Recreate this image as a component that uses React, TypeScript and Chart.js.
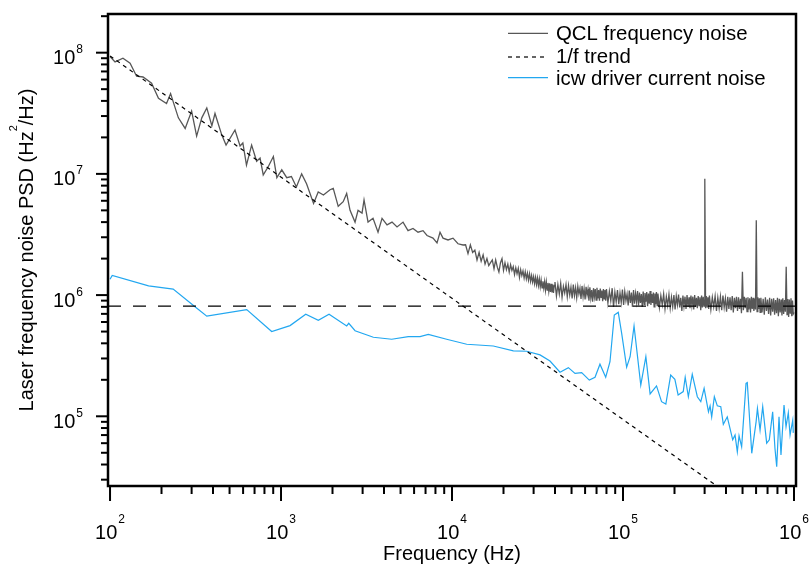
import React, { useEffect, useRef } from 'react';
import { Chart, registerables } from 'chart.js';

Chart.register(...registerables);

const FONT = '"Liberation Sans", Arial, Helvetica, sans-serif';

// ---- Axis ranges ----
const X_MIN = 97.3;
const X_MAX = 1.027e6;
const Y_MIN = 2.66e4;
const Y_MAX = 2.085e8;
const xMajorExponents = [2, 3, 4, 5, 6];
const yMajorExponents = [5, 6, 7, 8];

// ---- QCL frequency noise (Hz, Hz^2/Hz), low-frequency part ----
const qclFreq = [
  100, 107, 119, 131, 143, 156, 175, 192, 214, 226,
  251, 275, 300, 321, 344, 368, 394, 411, 450, 477,
  538, 576, 598, 628, 673, 720, 754, 787, 843, 902,
  945, 1010, 1080, 1150, 1230, 1320, 1410, 1550, 1650, 1770,
  1935, 2020, 2160, 2310, 2420,
  2533, 2709, 2821, 2977, 3058, 3227, 3452, 3692, 3897, 4168,
  4458, 4769, 5170, 5529, 5914, 6326, 6767, 7141, 7741, 8170,
  8507, 8858, 9474, 10134, 10840, 11595,
];
const qclValues = [
  9.3e7, 8.4e7, 9.0e7, 8.2e7, 6.4e7, 6.3e7, 5.6e7, 4.2e7, 3.8e7, 4.6e7,
  2.9e7, 2.37e7, 3.3e7, 2.05e7, 2.9e7, 3.5e7, 2.5e7, 3.15e7, 2.1e7, 1.73e7,
  2.3e7, 1.7e7, 1.8e7, 1.18e7, 1.73e7, 1.27e7, 1.35e7, 9.8e6, 1.15e7, 1.39e7,
  9.3e6, 1.08e7, 9.3e6, 9.5e6, 7.8e6, 1.0e7, 8.3e6, 5.7e6, 7.1e6, 6.7e6,
  7.4e6, 7.6e6, 5.4e6, 5.9e6, 6.9e6,
  5.0e6, 4.0e6, 5.0e6, 4.75e6, 6.1e6, 4.0e6, 4.3e6, 3.3e6, 4.3e6, 3.8e6,
  4.0e6, 3.65e6, 4.0e6, 3.4e6, 3.55e6, 3.3e6, 3.4e6, 3.1e6, 2.95e6, 2.7e6,
  3.3e6, 2.95e6, 2.85e6, 2.95e6, 2.65e6, 2.59e6,
];

// ---- QCL frequency noise, dense high-frequency part (kHz, units of 1e6 Hz^2/Hz) ----
const qclDenseFreqKHz = [
  12.0, 12.4, 12.8, 13.2, 13.6, 14.0, 14.4, 14.8, 15.2, 15.6, 16.0, 16.4, 16.8, 17.2, 17.6, 18.0, 18.4, 18.8, 19.2, 19.6,
  20.0, 20.4, 20.8, 21.2, 21.6, 22.0, 22.4, 22.8, 23.2, 23.6, 24.0, 24.4, 24.8, 25.2, 25.6, 26.0, 26.4, 26.8, 27.2, 27.6,
  28.0, 28.4, 28.8, 29.2, 29.6, 30.0, 30.4, 30.8, 31.2, 31.6, 32.0, 32.4, 32.8, 33.2, 33.6, 34.0, 34.4, 34.8, 35.2, 35.6,
  36.0, 36.4, 36.8, 37.2, 37.6, 38.0, 38.4, 38.8, 39.2, 39.6,
  40.0, 40.8, 41.6, 42.4, 43.2, 44.0, 44.8, 45.6, 46.4, 47.2, 48.0, 48.8, 49.6, 50.4, 51.2, 52.0, 52.8, 53.6, 54.4, 55.2,
  56.0, 56.8, 57.6, 58.4, 59.2, 60.0, 60.8, 61.6, 62.4, 63.2, 64.0, 64.8, 65.6, 66.4, 67.2, 68.0, 68.8, 69.6, 70.4, 71.2,
  72.0, 72.8, 73.6, 74.4, 75.2, 76.0, 76.8, 77.6, 78.4, 79.2,
  80.0, 81.6, 83.2, 84.8, 86.4, 88.0, 89.6, 91.2, 92.8, 94.4, 96.0, 97.6, 99.2, 100.8, 102.4, 104.0, 105.6, 107.2, 108.8, 110.4,
  112.0, 113.6, 115.2, 116.8, 118.4, 120.0, 121.6, 123.2, 124.8, 126.4, 128.0, 129.6, 131.2, 132.8, 134.4, 136.0, 137.6, 139.2, 140.8, 142.4,
  144.0, 145.6, 147.2, 148.8, 150.4, 152.0, 153.6, 155.2, 156.8, 158.4,
  160.0, 163.2, 166.4, 169.6, 172.8, 176.0, 179.2, 182.4, 185.6, 188.8, 192.0, 195.2, 198.4, 201.6, 204.8, 208.0, 211.2, 214.4, 217.6, 220.8,
  224.0, 227.2, 230.4, 233.6, 236.8, 240.0, 243.2, 246.4, 249.6, 252.8, 256.0, 259.2, 262.4, 265.6, 268.8, 272.0, 275.2, 278.4, 281.6, 284.8,
  288.0, 291.2, 294.4, 297.6, 300.8, 304.0, 307.2, 310.4, 313.6, 316.8,
  320.0, 326.4, 332.8, 339.2, 345.6, 352.0, 358.4, 364.8, 371.2, 377.6, 384.0, 390.4, 396.8, 403.2, 409.6, 416.0, 422.4, 428.8, 435.2, 441.6,
  448.0, 454.4, 460.8, 467.2, 473.6, 480.0, 486.4, 492.8, 499.2, 505.6, 512.0, 518.4, 524.8, 531.2, 537.6, 544.0, 550.4, 556.8, 563.2, 569.6,
  576.0, 582.4, 588.8, 595.2, 601.6, 608.0, 614.4, 620.8, 627.2, 633.6,
  640, 650, 660, 670, 680, 690, 700, 710, 720, 730, 740, 750, 760, 770, 780, 790, 800, 810, 820, 830,
  840, 850, 860, 870, 880, 890, 900, 910, 920, 930, 940, 950, 960, 970, 980, 990, 1000,
];
const qclDenseValuesE6 = [
  2.6, 2.2, 2.6, 2.25, 2.35, 1.95, 2.25, 1.9, 2.15, 1.8, 2.0, 1.75, 1.85, 1.95, 1.65, 1.95, 1.7, 1.55, 1.85, 2.0,
  1.6, 1.85, 1.62, 1.8, 1.55, 1.78, 1.6, 1.72, 1.48, 1.68, 1.5, 1.66, 1.4, 1.62, 1.45, 1.58, 1.38, 1.56, 1.36, 1.52,
  1.33, 1.5, 1.3, 1.45, 1.28, 1.42, 1.24, 1.4, 1.22, 1.38, 1.2, 1.36, 1.17, 1.33, 1.15, 1.3, 1.14, 1.29, 1.1, 1.28,
  1.1, 1.26, 1.08, 1.25, 1.06, 1.24, 1.05, 1.22, 1.04, 1.2,
  1.28, 0.98, 1.22, 1.02, 1.25, 0.96, 1.18, 1.04, 1.22, 0.97, 1.2, 1.0, 1.16, 0.94, 1.22, 0.99, 1.15, 0.95, 1.18, 1.02,
  1.14, 0.93, 1.19, 0.97, 1.13, 0.92, 1.17, 1.0, 1.12, 0.9, 1.16, 0.95, 1.1, 0.88, 1.14, 0.97, 1.12, 0.91, 1.15, 0.94,
  1.1, 0.9, 1.13, 0.96, 1.09, 0.89, 1.12, 0.93, 1.1, 0.9,
  1.12, 0.86, 1.08, 0.9, 1.14, 0.8, 1.06, 0.88, 1.1, 0.84, 1.04, 0.87, 1.11, 0.83, 1.07, 0.9, 1.02, 0.82, 1.09, 0.86,
  1.05, 0.8, 1.1, 0.85, 1.03, 0.88, 1.08, 0.82, 1.05, 0.86, 1.02, 0.8, 1.07, 0.84, 1.04, 0.88, 1.06, 0.81, 1.03, 0.85,
  1.08, 0.83, 1.02, 0.86, 1.05, 0.8, 1.03, 0.84, 1.06, 0.82,
  1.03, 0.79, 0.99, 0.83, 1.02, 0.77, 0.97, 0.82, 1.01, 0.78, 0.96, 0.8, 1.0, 0.76, 0.98, 0.83, 1.01, 0.79, 0.95, 0.74,
  0.99, 0.81, 0.97, 0.77, 1.0, 0.8, 0.96, 0.78, 0.99, 0.82, 0.97, 0.76, 1.0, 0.8, 0.95, 0.78, 0.98, 0.82, 0.96, 0.75,
  0.99, 0.79, 0.97, 0.81, 9.1, 0.78, 0.98, 0.8, 0.96, 0.77,
  0.99, 0.76, 0.96, 0.8, 0.98, 0.74, 0.95, 0.78, 0.97, 0.75, 0.99, 0.79, 0.94, 0.73, 0.97, 0.77, 0.96, 0.75, 0.98, 0.72,
  0.95, 0.78, 0.97, 0.74, 0.96, 0.77, 0.93, 0.71, 1.56, 0.75, 0.97, 0.78, 0.95, 0.73, 0.96, 0.76, 0.94, 0.72, 0.97, 0.77,
  0.95, 0.74, 0.93, 0.76, 4.15, 0.73, 0.96, 0.77, 0.94, 0.72,
  0.95, 0.72, 0.93, 0.69, 0.96, 0.74, 0.92, 0.7, 0.95, 0.68, 0.93, 0.73, 0.94, 0.69, 0.91, 0.71, 0.95, 0.67, 0.93, 0.72,
  0.92, 0.68, 0.94, 0.7, 0.91, 0.73, 1.71, 0.69, 0.93, 0.66, 0.92, 0.71, 0.94, 0.67, 0.9, 0.7, 0.72,
];

// ---- 1/f trend (end points) ----
const trendFreq = [100, 1e6];
const trendValues = [9.4e7, 9.4e3];

// ---- white-noise floor (dashed) ----
const floorLevel = 8.1e5;

// ---- icw driver current noise ----
const icwFreq = [
  100, 103, 168, 234, 314, 368, 630, 882, 1129, 1395,
  1652, 1909, 2421, 2489, 2710, 3467, 4438, 5550, 6500, 7265,
  9300, 12190, 17440, 22830, 27350, 32700, 37400, 42800, 47900, 52400,
  57300, 63500, 68600, 73300, 79200, 83900, 88900, 93800, 98200, 105000,
  110000, 116000, 127000, 136000, 144000, 157000, 168000, 178000, 190000, 201000,
  210000, 225000, 231000, 241000, 254000, 272000, 285000, 298000, 316000, 323000,
  330000, 342000, 356000, 373000, 386000, 407000, 438000, 452000, 466000, 477000,
  494000, 524000, 533000, 566000, 600000, 611000, 633000, 656000, 692000, 717000,
  750000, 774000, 792000, 817000, 839000, 874000, 898000, 926000, 948000, 983000,
  990000,
];
const icwValues = [
  1.35e6, 1.45e6, 1.19e6, 1.12e6, 8.0e5, 6.7e5, 7.6e5, 5.0e5, 5.6e5, 6.95e5,
  6.2e5, 6.95e5, 5.56e5, 5.85e5, 5.08e5, 4.49e5, 4.32e5, 4.54e5, 4.54e5, 4.74e5,
  4.32e5, 3.93e5, 3.8e5, 3.46e5, 3.44e5, 3.21e5, 2.86e5, 2.31e5, 2.52e5, 2.26e5,
  2.29e5, 1.99e5, 2.1e5, 2.69e5, 2.1e5, 2.82e5, 6.85e5, 7.2e5, 4.84e5, 2.54e5,
  3.1e5, 5.56e5, 1.81e5, 3.1e5, 1.53e5, 1.78e5, 1.32e5, 1.26e5, 2.19e5, 2.02e5,
  1.5e5, 1.6e5, 2.1e5, 1.45e5, 2.22e5, 1.45e5, 1.32e5, 1.7e5, 1.09e5, 1.22e5,
  9.9e4, 1.45e5, 1.22e5, 1.2e5, 8.6e4, 9.9e4, 6.4e4, 7.0e4, 5.1e4, 6.9e4,
  5.6e4, 1.87e5, 1.9e5, 4.95e4, 9.0e4, 1.16e5, 7.7e4, 1.2e5, 6.0e4, 6.4e4,
  1.09e5, 5.4e4, 3.84e4, 9.9e4, 4.8e4, 1.24e5, 8.2e4, 1.07e5, 7.0e4, 9.3e4,
  7.3e4,
];

const GRAY = '#575757';
const BLUE = '#22a7f0';

const overlayPlugin = {
  id: 'overlay',
  afterDraw(chart: any) {
    const { ctx, chartArea: a, scales } = chart;
    const xs = scales.x;
    const ys = scales.y;
    ctx.save();
    ctx.fillStyle = '#000';
    ctx.strokeStyle = '#000';

    // ticks
    ctx.lineWidth = 2;
    for (let d = 1; d <= 6; d++) {
      for (let m = 1; m <= 9; m++) {
        const f = m * Math.pow(10, d);
        if (f < xs.min || f > xs.max) continue;
        const px = xs.getPixelForValue(f);
        const len = m === 1 ? 15 : 8;
        ctx.beginPath();
        ctx.moveTo(px, a.bottom);
        ctx.lineTo(px, a.bottom + len);
        ctx.stroke();
      }
    }
    for (let d = 4; d <= 8; d++) {
      for (let m = 1; m <= 9; m++) {
        const v = m * Math.pow(10, d);
        if (v < ys.min || v > ys.max) continue;
        const py = ys.getPixelForValue(v);
        const len = m === 1 ? 12 : 7;
        ctx.beginPath();
        ctx.moveTo(a.left, py);
        ctx.lineTo(a.left - len, py);
        ctx.stroke();
      }
    }

    // frame
    ctx.lineWidth = 2.5;
    ctx.strokeRect(a.left, a.top, a.right - a.left, a.bottom - a.top);

    // x tick labels
    ctx.textAlign = 'left';
    ctx.textBaseline = 'alphabetic';
    for (const e of xMajorExponents) {
      const px = xs.getPixelForValue(Math.pow(10, e));
      ctx.font = `20px ${FONT}`;
      const w1 = ctx.measureText('10').width;
      ctx.font = `12px ${FONT}`;
      const w2 = ctx.measureText(String(e)).width;
      const start = px - (w1 + 1 + w2) / 2;
      ctx.font = `20px ${FONT}`;
      ctx.fillText('10', start, a.bottom + 53);
      ctx.font = `12px ${FONT}`;
      ctx.fillText(String(e), start + w1 + 1, a.bottom + 37);
    }
    // y tick labels
    for (const e of yMajorExponents) {
      const py = ys.getPixelForValue(Math.pow(10, e));
      ctx.font = `20px ${FONT}`;
      const w1 = ctx.measureText('10').width;
      ctx.font = `12px ${FONT}`;
      const w2 = ctx.measureText(String(e)).width;
      const right = a.left - 25;
      ctx.font = `12px ${FONT}`;
      ctx.fillText(String(e), right - w2, py + 0.6);
      ctx.font = `20px ${FONT}`;
      ctx.fillText('10', right - w2 - 1 - w1, py + 11.6);
    }

    // x axis title
    ctx.font = `20px ${FONT}`;
    ctx.textAlign = 'center';
    ctx.fillText('Frequency (Hz)', (a.left + a.right) / 2, 560);

    // y axis title
    ctx.save();
    ctx.translate(33, (a.top + a.bottom) / 2);
    ctx.rotate(-Math.PI / 2);
    ctx.textAlign = 'left';
    const p1 = 'Laser frequency noise PSD (Hz';
    const p2 = '2';
    const p3 = '/Hz)';
    ctx.font = `20px ${FONT}`;
    const t1 = ctx.measureText(p1).width;
    const t3 = ctx.measureText(p3).width;
    ctx.font = `11px ${FONT}`;
    const t2 = ctx.measureText(p2).width;
    const total = t1 + t2 + t3;
    let cx = -total / 2;
    ctx.font = `20px ${FONT}`;
    ctx.fillText(p1, cx, 0);
    cx += t1;
    ctx.font = `11px ${FONT}`;
    ctx.fillText(p2, cx, -16);
    cx += t2;
    ctx.font = `20px ${FONT}`;
    ctx.fillText(p3, cx, 0);
    ctx.restore();

    // legend
    const entries = chart.data.datasets.filter((ds: any) => ds.showInLegend);
    const rows = [
      { line: 33.3, base: 40 },
      { line: 57, base: 62.5 },
      { line: 77.7, base: 84.5 },
    ];
    entries.forEach((ds: any, i: number) => {
      const r = rows[i];
      ctx.save();
      ctx.strokeStyle = ds.borderColor;
      ctx.lineWidth = 1.2;
      ctx.setLineDash(ds.borderDash || []);
      ctx.beginPath();
      ctx.moveTo(508, r.line);
      ctx.lineTo(548, r.line);
      ctx.stroke();
      ctx.restore();
      ctx.font = `20.4px ${FONT}`;
      ctx.textAlign = 'left';
      ctx.fillStyle = '#000';
      ctx.fillText(ds.label, 556, r.base);
    });

    ctx.restore();
  },
};

export default function App() {
  const ref = useRef<HTMLCanvasElement>(null);

  useEffect(() => {
    const canvas = ref.current;
    if (!canvas) return;
    const qclData = [
      ...qclFreq.map((f, i) => ({ x: f, y: qclValues[i] })),
      ...qclDenseFreqKHz.map((f, i) => ({ x: f * 1e3, y: qclDenseValuesE6[i] * 1e6 })),
    ];
    const trendData = trendFreq.map((f, i) => ({ x: f, y: trendValues[i] }));
    const icwData = icwFreq.map((f, i) => ({ x: f, y: icwValues[i] }));
    const floorData = [
      { x: X_MIN, y: floorLevel },
      { x: X_MAX, y: floorLevel },
    ];

    const chart = new Chart(canvas, {
      type: 'line',
      data: {
        datasets: [
          {
            label: 'QCL frequency noise',
            data: qclData,
            borderColor: GRAY,
            borderWidth: 1.3,
            pointRadius: 0,
            fill: false,
            order: 3,
            showInLegend: true,
          } as any,
          {
            label: '1/f trend',
            data: trendData,
            borderColor: '#000',
            borderWidth: 1.2,
            borderDash: [4, 4],
            pointRadius: 0,
            fill: false,
            order: 1,
            showInLegend: true,
          } as any,
          {
            label: 'icw driver current noise',
            data: icwData,
            borderColor: BLUE,
            borderWidth: 1.2,
            pointRadius: 0,
            fill: false,
            order: 2,
            showInLegend: true,
          } as any,
          {
            label: 'floor',
            data: floorData,
            borderColor: '#000',
            borderWidth: 1.2,
            borderDash: [13, 12],
            pointRadius: 0,
            fill: false,
            order: 0,
            showInLegend: false,
          } as any,
        ],
      },
      options: {
        responsive: false,
        animation: false,
        devicePixelRatio: 1,
        layout: { padding: { left: 0, right: 13, top: 14, bottom: 0 } },
        plugins: {
          legend: { display: false },
          tooltip: { enabled: false },
        },
        elements: { line: { tension: 0 }, point: { radius: 0 } },
        scales: {
          x: {
            type: 'logarithmic',
            min: X_MIN,
            max: X_MAX,
            ticks: { display: false },
            grid: { display: false },
            border: { display: false },
            afterFit: (s: any) => {
              s.height = 81;
            },
          },
          y: {
            type: 'logarithmic',
            min: Y_MIN,
            max: Y_MAX,
            ticks: { display: false },
            grid: { display: false },
            border: { display: false },
            afterFit: (s: any) => {
              s.width = 108;
            },
          },
        },
      } as any,
      plugins: [overlayPlugin],
    });
    return () => chart.destroy();
  }, []);

  return (
    <div style={{ position: 'fixed', left: 0, top: 0, width: 809, height: 567, background: '#fff' }}>
      <canvas ref={ref} width={809} height={567} style={{ width: 809, height: 567, display: 'block' }} />
    </div>
  );
}
